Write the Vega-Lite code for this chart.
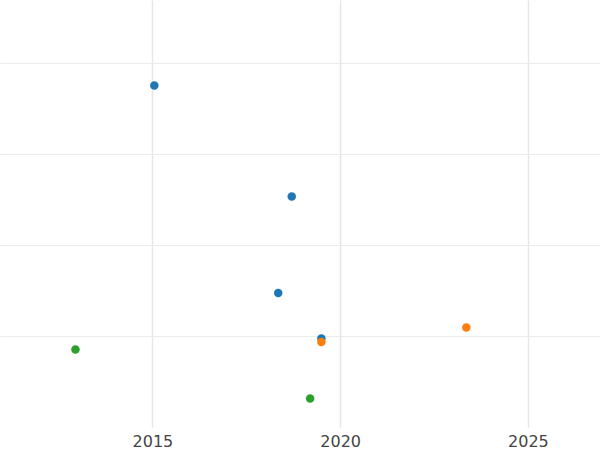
{
  "$schema": "https://vega.github.io/schema/vega-lite/v6.json",
  "width": 600,
  "height": 427,
  "autosize": {"type": "none"},
  "padding": {"left": 0, "top": 0, "right": 0, "bottom": 23},
  "config": {"view": {"stroke": null}, "font": "DejaVu Sans"},
  "data": {
    "values": [
      {"year": 2015.05, "value": 3.752, "group": "A"},
      {"year": 2018.71, "value": 2.532, "group": "A"},
      {"year": 2018.35, "value": 1.472, "group": "A"},
      {"year": 2019.50, "value": 0.972, "group": "A"},
      {"year": 2019.50, "value": 0.934, "group": "B"},
      {"year": 2023.36, "value": 1.093, "group": "B"},
      {"year": 2012.95, "value": 0.851, "group": "C"},
      {"year": 2019.20, "value": 0.313, "group": "C"}
    ]
  },
  "mark": {"type": "circle", "size": 72, "opacity": 1},
  "encoding": {
    "x": {
      "field": "year",
      "type": "quantitative",
      "scale": {"domain": [2010.94, 2026.92], "nice": false, "zero": false},
      "axis": {
        "title": null,
        "values": [2015, 2020, 2025],
        "format": "d",
        "ticks": false,
        "domain": false,
        "labelPadding": 6,
        "labelFontSize": 16,
        "labelColor": "#444444",
        "gridColor": "#e6e6e6",
        "gridWidth": 1.5
      }
    },
    "y": {
      "field": "value",
      "type": "quantitative",
      "scale": {"domain": [0, 4.69], "nice": false, "zero": false},
      "axis": {
        "title": null,
        "values": [1, 2, 3, 4],
        "labels": false,
        "ticks": false,
        "domain": false,
        "gridColor": "#ebebeb",
        "gridWidth": 1
      }
    },
    "color": {
      "field": "group",
      "type": "nominal",
      "scale": {"domain": ["A", "B", "C"], "range": ["#1f77b4", "#ff7f0e", "#2ca02c"]},
      "legend": null
    },
    "order": {"field": "group"}
  }
}
